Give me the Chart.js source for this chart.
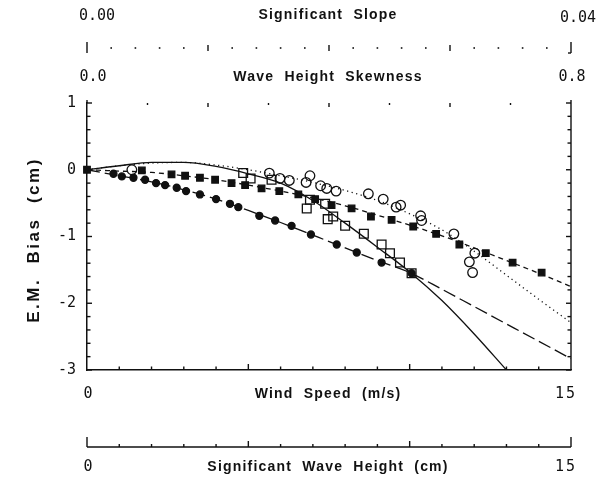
<!DOCTYPE html>
<html>
<head>
<meta charset="utf-8">
<script src="https://cdn.jsdelivr.net/npm/chart.js@4.4.1/dist/chart.umd.min.js"></script>
<style>
  html, body { margin: 0; padding: 0; background: #fff; }
  #wrap { width: 609px; height: 477px; }
</style>
</head>
<body>
<div id="wrap"><canvas id="grafico" width="609" height="477"></canvas></div>
<script>
// filled circles (long dash fit)
const circSpeed = [0.82, 1.08, 1.44, 1.80, 2.14, 2.42, 2.78, 3.07, 3.50, 4.00, 4.43, 4.69, 5.34, 5.83, 6.34, 6.94, 7.74, 8.36, 9.13, 10.06];
const circBias  = [-0.06, -0.10, -0.12, -0.15, -0.20, -0.23, -0.27, -0.32, -0.37, -0.44, -0.51, -0.56, -0.69, -0.76, -0.84, -0.97, -1.12, -1.24, -1.39, -1.55];

// filled squares (short dash fit)
const sqSpeed = [0, 1.70, 2.62, 3.04, 3.50, 3.97, 4.48, 4.90, 5.41, 5.96, 6.55, 7.07, 7.58, 8.20, 8.80, 9.44, 10.11, 10.82, 11.54, 12.36, 13.19, 14.09];
const sqBias  = [0, -0.01, -0.07, -0.09, -0.12, -0.15, -0.20, -0.23, -0.28, -0.32, -0.37, -0.44, -0.53, -0.58, -0.70, -0.75, -0.85, -0.96, -1.12, -1.25, -1.39, -1.54];

// open circles (dotted fit)
const oCircSpeed = [1.39, 5.65, 5.98, 6.27, 6.91, 6.79, 7.24, 7.43, 7.72, 8.72, 9.18, 9.58, 9.72, 10.34, 10.37, 11.37, 12.02, 11.85, 11.95];
const oCircBias  = [0.0, -0.05, -0.13, -0.16, -0.09, -0.19, -0.24, -0.28, -0.32, -0.36, -0.44, -0.56, -0.53, -0.69, -0.76, -0.96, -1.25, -1.38, -1.54];

// open squares (solid fit)
const oSqSpeed = [4.84, 5.07, 5.72, 6.81, 6.91, 7.38, 7.46, 7.63, 8.00, 8.58, 9.13, 9.39, 9.70, 10.06];
const oSqBias  = [-0.05, -0.13, -0.15, -0.58, -0.45, -0.51, -0.74, -0.70, -0.84, -0.96, -1.12, -1.25, -1.39, -1.55];

// fitted curves
const fitSpeed   = [0, 1, 2, 3, 4, 5, 6, 7, 8, 9, 10, 11, 12, 13, 14, 15];
const solidFit   = [0, 0.06, 0.11, 0.11, 0.05, -0.06, -0.20, -0.46, -0.80, -1.16, -1.53, -1.96, -2.46, -3.0];
const longFit    = [0, -0.09, -0.18, -0.30, -0.44, -0.61, -0.79, -0.98, -1.17, -1.36, -1.54, -1.79, -2.05, -2.31, -2.57, -2.83];
const shortFit   = [0, -0.02, -0.04, -0.09, -0.15, -0.23, -0.32, -0.42, -0.54, -0.68, -0.83, -0.99, -1.17, -1.36, -1.55, -1.75];
const dotFit     = [0, 0.06, 0.10, 0.11, 0.07, 0.0, -0.09, -0.19, -0.31, -0.46, -0.66, -0.90, -1.22, -1.58, -1.94, -2.29];

// extra axes
const slopeMax = 0.04;
const skewMax = 0.8;
const hsMax = 15;

const INK = "#111";
const numFont = "15px 'DejaVu Sans Mono'";
const titleFont = "bold 14px 'Liberation Sans'";

const pares = (xs, ys) => ys.map((v, i) => ({ x: xs[i], y: v }));

function curva(ys, dash) {
  return {
    data: pares(fitSpeed, ys),
    showLine: true,
    borderColor: INK,
    borderWidth: 1.3,
    borderDash: dash,
    pointRadius: 0,
    cubicInterpolationMode: "monotone",
    fill: false
  };
}

function puntos(xs, ys, estilo, radio, relleno) {
  return {
    data: pares(xs, ys),
    showLine: false,
    pointStyle: estilo,
    pointRadius: radio,
    pointBorderWidth: 1.3,
    pointBorderColor: INK,
    pointBackgroundColor: relleno ? INK : "rgba(0,0,0,0)",
    clip: false
  };
}

function tick(ctx, x1, y1, x2, y2) {
  ctx.beginPath();
  ctx.moveTo(x1, y1);
  ctx.lineTo(x2, y2);
  ctx.stroke();
}

function texto(ctx, t, x, y, font, align, spacing) {
  ctx.font = font;
  ctx.textAlign = align;
  ctx.textBaseline = "middle";
  ctx.letterSpacing = spacing || "0px";
  ctx.fillText(t, x, y);
}

const ejesExtra = {
  id: "ejesExtra",
  afterDraw(chart) {
    const { ctx, chartArea: a, scales } = chart;
    const sx = scales.x, sy = scales.y, skew = scales.skew, slope = scales.slope, hs = scales.hs;
    ctx.save();
    ctx.strokeStyle = INK;
    ctx.fillStyle = INK;
    ctx.lineWidth = 1.4;

    // right axis line
    tick(ctx, a.right, a.top - 3, a.right, a.bottom);
    tick(ctx, a.left, a.top - 3, a.left, a.top);

    // y ticks (inward) every 0.2
    for (let i = 0; i <= 20; i++) {
      const v = -3 + i * 0.2;
      const py = sy.getPixelForValue(v);
      const len = i % 5 === 0 ? 5 : 3.5;
      tick(ctx, a.left, py, a.left + len, py);
      tick(ctx, a.right, py, a.right - len, py);
    }

    // bottom wind speed ticks (up)
    for (let v = 1; v < 15; v++) {
      const px = sx.getPixelForValue(v);
      tick(ctx, px, a.bottom, px, a.bottom - (v % 5 === 0 ? 6 : 3.5));
    }

    // top skewness ticks (down)
    for (let i = 1; i < 8; i++) {
      const px = skew.getPixelForValue(i * 0.1);
      tick(ctx, px, a.top, px, a.top + (i % 2 === 0 ? 4 : 2));
    }

    // significant slope tick row
    const yS = 48;
    for (let i = 0; i <= 20; i++) {
      const px = slope.getPixelForValue(i * 0.002);
      if (i === 0 || i === 20) {
        tick(ctx, px, yS - 6, px, yS + 5);
      } else if (i % 5 === 0) {
        tick(ctx, px, yS - 3, px, yS + 3);
      } else {
        ctx.fillRect(px - 0.8, yS - 0.8, 1.6, 1.6);
      }
    }
    const pR = slope.getPixelForValue(slopeMax);
    tick(ctx, pR, yS + 5, pR - 3, yS + 5);

    // significant wave height axis
    const yH = 447;
    tick(ctx, hs.getPixelForValue(0), yH, hs.getPixelForValue(hsMax), yH);
    for (let v = 0; v <= hsMax; v++) {
      const px = hs.getPixelForValue(v);
      const len = (v === 0 || v === hsMax) ? 10 : (v % 5 === 0 ? 6 : 3);
      tick(ctx, px, yH, px, yH - len);
    }

    const cx = (a.left + a.right) / 2 - 1;

    // top rows
    texto(ctx, "0.00", slope.getPixelForValue(0) + 10, 16, numFont, "center");
    texto(ctx, slopeMax.toFixed(2), slope.getPixelForValue(slopeMax) + 7, 18, numFont, "center");
    texto(ctx, "Significant  Slope", cx, 15, titleFont, "center", "1.2px");

    texto(ctx, "0.0", skew.getPixelForValue(0) + 6, 77, numFont, "center");
    texto(ctx, skewMax.toFixed(1), skew.getPixelForValue(skewMax) + 1, 77, numFont, "center");
    texto(ctx, "Wave  Height  Skewness", cx, 77, titleFont, "center", "1.2px");

    // bottom rows
    texto(ctx, "0", sx.getPixelForValue(0) + 1, 394, numFont, "center");
    texto(ctx, "15", sx.getPixelForValue(15) - 5, 394, numFont, "center", "2px");
    texto(ctx, "Wind  Speed  (m/s)", cx, 394, titleFont, "center", "1.2px");

    texto(ctx, "0", hs.getPixelForValue(0) + 1, 467, numFont, "center");
    texto(ctx, String(hsMax), hs.getPixelForValue(hsMax) - 5, 467, numFont, "center", "2px");
    texto(ctx, "Significant  Wave  Height  (cm)", cx, 467, titleFont, "center", "1.2px");

    // y title
    ctx.save();
    ctx.translate(34, 240);
    ctx.rotate(-Math.PI / 2);
    texto(ctx, "E.M.  Bias  (cm)", 0, 0, "bold 17px 'Liberation Sans'", "center", "2.5px");
    ctx.restore();

    ctx.restore();
  }
};

const chart = new Chart(document.getElementById("grafico"), {
  type: "scatter",
  data: {
    datasets: [
      curva(solidFit, []),
      curva(longFit, [13, 5]),
      curva(shortFit, [5, 4]),
      curva(dotFit, [1.2, 3.5]),
      puntos(circSpeed, circBias, "circle", 3.5, true),
      puntos(sqSpeed, sqBias, "rect", 4.6, true),
      puntos(oCircSpeed, oCircBias, "circle", 4.8, false),
      puntos(oSqSpeed, oSqBias, "rect", 6.2, false)
    ]
  },
  options: {
    responsive: false,
    animation: false,
    devicePixelRatio: 1,
    layout: { padding: { top: 103, right: 38, left: 0, bottom: 0 } },
    plugins: { legend: { display: false }, tooltip: { enabled: false } },
    scales: {
      x: {
        type: "linear", position: "bottom", min: 0, max: 15,
        grid: { display: false, drawTicks: false },
        border: { display: true, color: INK, width: 1.5 },
        ticks: { display: false },
        afterFit: (s) => { s.height = 107; }
      },
      y: {
        type: "linear", position: "left", min: -3, max: 1,
        grid: { display: false, drawTicks: false },
        border: { display: true, color: INK, width: 1.5 },
        ticks: { stepSize: 1, color: INK, padding: 11, font: { family: "DejaVu Sans Mono", size: 15 } },
        afterFit: (s) => { s.width = 87; }
      },
      skew: { type: "linear", position: "top", min: 0, max: skewMax, display: false },
      slope: { type: "linear", position: "top", min: 0, max: slopeMax, display: false },
      hs: { type: "linear", position: "bottom", min: 0, max: hsMax, display: false }
    }
  },
  plugins: [ejesExtra]
});
</script>
</body>
</html>
